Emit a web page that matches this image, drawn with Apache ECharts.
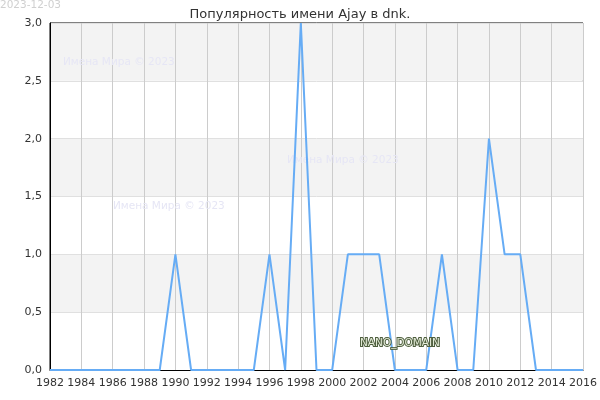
<!DOCTYPE html>
<html><head><meta charset="utf-8">
<script src="https://cdn.jsdelivr.net/npm/echarts@6/dist/echarts.min.js"></script>
<style>html,body{margin:0;padding:0;background:#fff}#c{width:600px;height:400px}</style>
</head><body><div id="c"></div>
<script>
const years = [1982,1983,1984,1985,1986,1987,1988,1989,1990,1991,1992,1993,1994,1995,1996,1997,1998,1999,2000,2001,2002,2003,2004,2005,2006,2007,2008,2009,2010,2011,2012,2013,2014,2015,2016];
const values = [0,0,0,0,0,0,0,0,1,0,0,0,0,0,1,0,3,0,0,1,1,1,0,0,0,1,0,0,2,1,1,0,0,0,0];
const titleText = 'Популярность имени Ajay в dnk.';
const dateText = '2023-12-03';
const watermark = 'Имена Мира © 2023';
const chart = echarts.init(document.getElementById('c'));
const font = 'DejaVu Sans';
chart.setOption({
  animation:false,
  title:{text:titleText,left:'center',top:3,textStyle:{fontFamily:font,fontSize:13,fontWeight:'normal',color:'#333'}},
  grid:{left:50,right:15,top:23,bottom:30,show:true,borderColor:'#000',borderWidth:1,backgroundColor:'transparent'},
  xAxis:{type:'value',min:1982,max:2016,interval:2,
    axisLine:{lineStyle:{color:'#000'}},axisTick:{show:false},
    axisLabel:{fontFamily:font,fontSize:11,color:'#333',margin:8,formatter:v=>String(v)},
    splitLine:{show:true,lineStyle:{color:'#ccc',width:1}}},
  yAxis:{type:'value',min:0,max:3,interval:0.5,
    axisLine:{show:true,lineStyle:{color:'#000'}},axisTick:{show:false},
    axisLabel:{fontFamily:font,fontSize:11,color:'#333',margin:8,formatter:v=>v.toFixed(1).replace('.',',')},
    splitLine:{show:true,lineStyle:{color:'#e0e0e0'}},
    splitArea:{show:true,areaStyle:{color:['#ffffff','#f3f3f3']}}},
  series:[{type:'line',data:years.map((y,i)=>[y,values[i]]),symbol:'none',
    lineStyle:{color:'#66acf5',width:2},z:3}],
  graphic:[
    {type:'text',left:0,top:0,style:{text:dateText,fontFamily:font,fontSize:10.5,fill:'#d0d0d0'}},
    {type:'text',left:63,top:57,z:1,style:{text:watermark,fontFamily:font,fontSize:10.5,fill:'#e6e6f5'}},
    {type:'text',left:287,top:155,z:1,style:{text:watermark,fontFamily:font,fontSize:10.5,fill:'#e6e6f5'}},
    {type:'text',left:113,top:201,z:1,style:{text:watermark,fontFamily:font,fontSize:10.5,fill:'#e6e6f5'}},
    {type:'text',left:359,top:337,z:10,style:{text:'NANO_DOMAIN',fontFamily:font,fontSize:10.5,fill:'#e4ecd8',stroke:'#4e5e3e',lineWidth:2}}
  ]
});
</script></body></html>
